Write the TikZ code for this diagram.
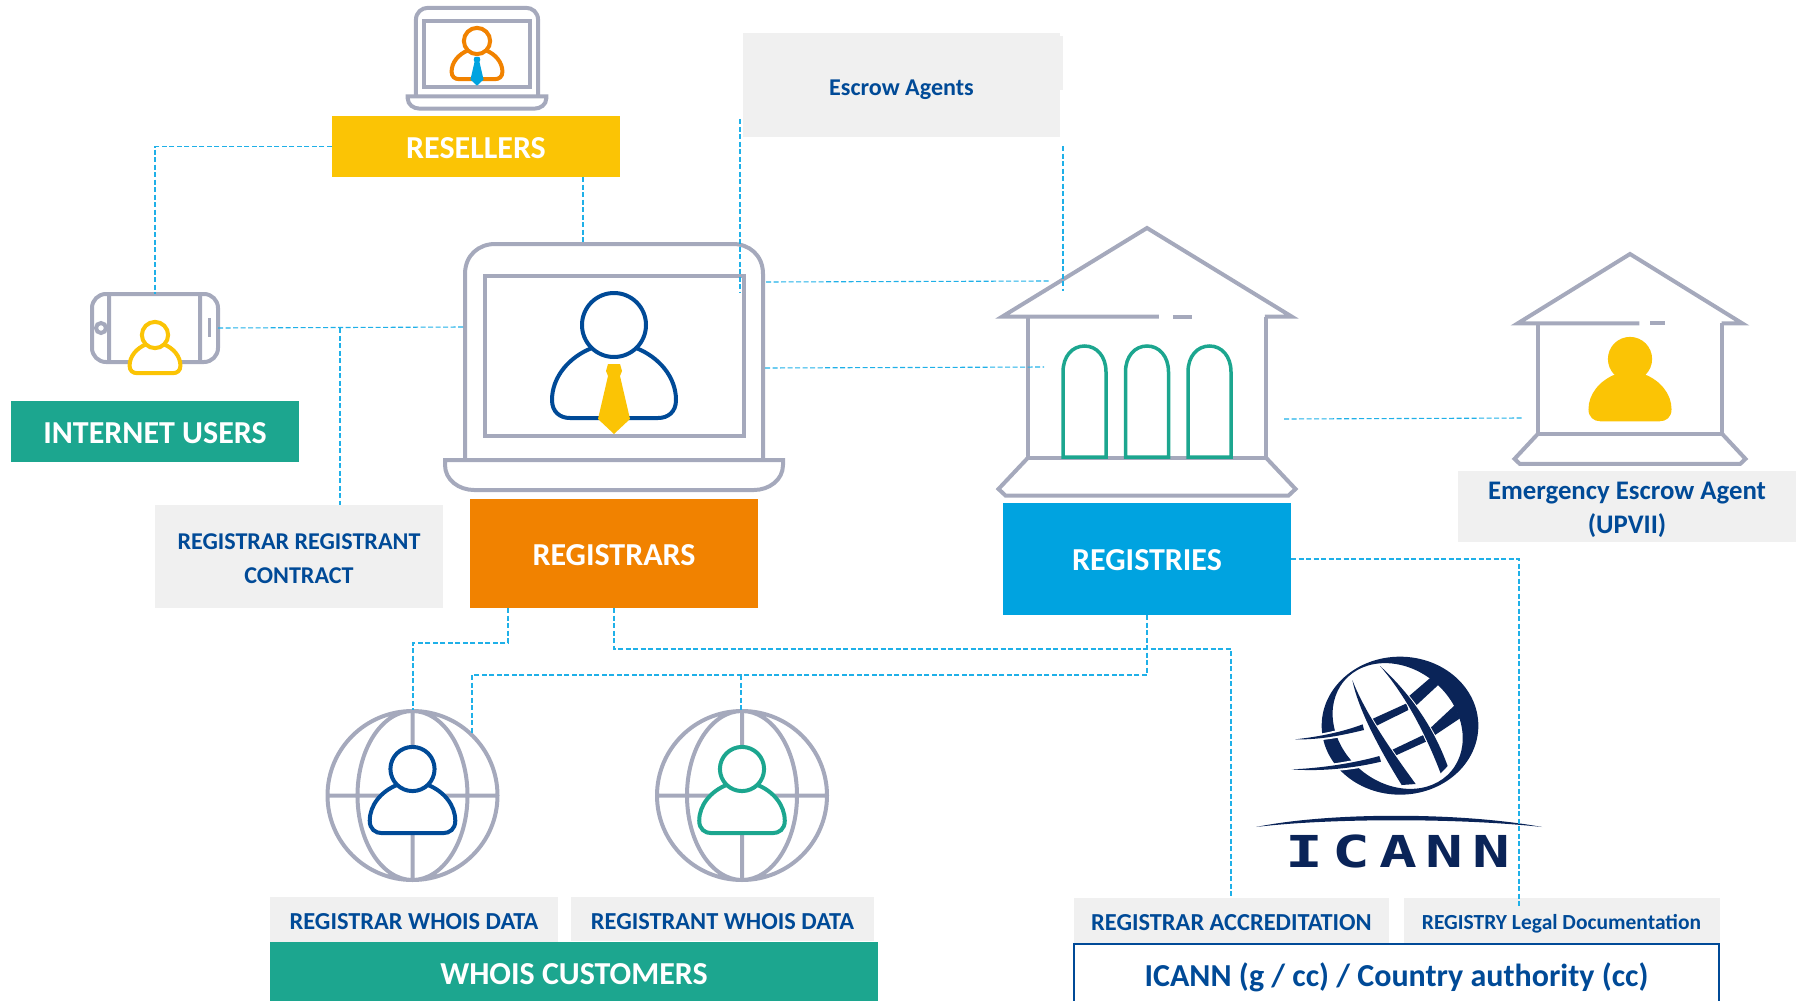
\documentclass[tikz,border=0pt]{standalone}
\usepackage{fontspec}
\setmainfont{Carlito}
\newfontfamily\logofont[LetterSpace=14]{DejaVu Sans Mono}
\usetikzlibrary{positioning}
\definecolor{icongrey}{HTML}{A5A9BC}
\definecolor{navyblue}{HTML}{004A97}
\definecolor{sunyellow}{HTML}{FBC405}
\definecolor{seateal}{HTML}{1CA68F}
\definecolor{deeporange}{HTML}{F18200}
\definecolor{skyblue}{HTML}{00A3E0}
\definecolor{notegrey}{HTML}{F0F0F0}
\definecolor{dashblue}{HTML}{1FB0E8}
\definecolor{logonavy}{HTML}{0A2458}
\tikzset{
	icon/.style={draw=icongrey,line width=4pt},
	conn/.style={draw=dashblue,line width=1.1pt,dash pattern=on 5pt off 2.5pt},
	headbox/.style={fill=#1,text=white,inner sep=0pt,font=\fontsize{32}{34}\selectfont\bfseries},
	notebox/.style={fill=notegrey,text=navyblue,inner sep=0pt,align=center,font=\fontsize{24.4}{34}\selectfont\bfseries},
	capline/.style={text height=#1,text depth=0pt},
	logopart/.style={fill=logonavy,preaction={draw=white,line width=#1}},
}
% head centre at the origin of each icon
\newcommand{\personicon}[4]{
	\begin{scope}[shift={(#1,#2)},scale=#3]
	\draw[#4,line width=4pt,fill=white] (-22,23) .. controls (-45,32) and (-62,52) .. (-62,75) .. controls (-62,87) and (-54,93) .. (-44,93) -- (44,93) .. controls (54,93) and (62,87) .. (62,75) .. controls (62,52) and (45,32) .. (22,23);
	\draw[#4,line width=4pt,fill=white] (0,0) circle (32);
	\end{scope}}
\newcommand{\laptopicon}[5]{
	\begin{scope}[shift={(#1,#2)},scale=#3]
	\draw[icon] (-149,133) -- (-149,-51) .. controls (-149,-70) and (-135,-81) .. (-119,-81) -- (119,-81) .. controls (135,-81) and (149,-70) .. (149,-51) -- (149,133);
	\draw[icon] (-129,-49) rectangle (130,111);
	\draw[icon] (-169,135) -- (169,135) -- (169,140) .. controls (169,155) and (155,165) .. (140,165) -- (-140,165) .. controls (-155,165) and (-169,155) .. (-169,140) -- cycle;
	\end{scope}
	\personicon{#1}{#2}{#3}{#4}
	\begin{scope}[shift={(#1,#2)},scale=#3]
	\fill[#5] (-6,39) -- (6,39) -- (8,46) -- (6,51) -- (16,94) -- (0,109) -- (-16,94) -- (-6,51) -- (-8,46) -- cycle;
	\end{scope}}
\newcommand{\houseicon}[3]{
	\begin{scope}[shift={(#1,#2)},#3]
	\draw[icon,line join=miter] (12,88.5) -- (-146,88.5) -- (0,0) -- (146,88.5) -- (119,88.5);
	\draw[icon] (26,88.5) -- (45,88.5);
	\draw[icon] (-120,88.5) -- (-120,229.5) -- (120,229.5) -- (120,88.5);
	\draw[icon] (-120,229.5) -- (-150,261) -- (-143,267.5) -- (143,267.5) -- (150,261) -- (120,229.5);
	\end{scope}}
\newcommand{\globeicon}[2]{
	\begin{scope}[shift={(#1,#2)}]
	\draw[icon] (0,0) ellipse (85 and 84.5) (0,0) ellipse (55 and 84.5) (-85,0) -- (85,0) (0,-84.5) -- (0,84.5);
	\end{scope}}
\begin{document}
\begin{tikzpicture}[x=1pt,y=-1pt]% WHOIS ACTORS MAP
	\useasboundingbox (0,0) rectangle (1796,1001);
	% icons
	\laptopicon{477}{41}{.41}{deeporange}{skyblue}
	\laptopicon{614}{325}{1}{navyblue}{sunyellow}
	\draw[icon,rounded corners=14pt] (92,294) rectangle (218,362);
	\draw[icon] (109,294) -- (109,362) (200,294) -- (200,362) (101,328) circle (5);
	\draw[icongrey,line width=3pt] (209,318) -- (209,337);
	\personicon{155}{335}{.41}{sunyellow}
	\houseicon{1147}{228}{xscale=.99}
	\foreach \a in {1084.5,1147,1209.5}
	\draw[seateal,line width=3.5pt] (\a-21.5,457) -- (\a-21.5,372) .. controls (\a-21.5,356) and (\a-12,346) .. (\a,346) .. controls (\a+12,346) and (\a+21.5,356) .. (\a+21.5,372) -- (\a+21.5,457) -- cycle;
	\houseicon{1630}{254}{xscale=.77,yscale=.785}
	\begin{scope}[shift={(1630,359)},scale=.67]
	\fill[sunyellow] (-22,23) .. controls (-45,32) and (-62,52) .. (-62,75) .. controls (-62,87) and (-54,93) .. (-44,93) -- (44,93) .. controls (54,93) and (62,87) .. (62,75) .. controls (62,52) and (45,32) .. (22,23) -- cycle;
	\fill[sunyellow] (0,0) circle (33);
	\end{scope}
	\globeicon{412.5}{795.5}
	\personicon{412.5}{769}{.69}{navyblue}
	\globeicon{742}{795.5}
	\personicon{742}{769}{.69}{seateal}
	% logo
	\begin{scope}[shift={(1270,640)},scale=1/3]
	\fill[logonavy,even odd rule] (390,257) ellipse [x radius=235,y radius=207] (383,258) ellipse [x radius=210,y radius=172,rotate=-40];
	\fill[logonavy] (300,240) -- (410,190) -- (415,210) -- (310,262) -- cycle (415,170) -- (485,110) -- (510,130) -- (440,195) -- cycle (355,335) -- (460,285) -- (468,305) -- (365,352) -- cycle (480,265) -- (555,195) -- (570,235) -- (495,285) -- cycle;
	\path[logopart=4pt] (75,298) .. controls (150,290) and (220,275) .. (278,253) -- (282,270) .. controls (220,285) and (150,300) .. (75,298) -- cycle;
	\path[logopart=4pt] (65,388) .. controls (150,385) and (250,370) .. (328,348) -- (333,365) .. controls (250,385) and (150,395) .. (65,388) -- cycle;
	\path[logopart=2pt] (247,120) .. controls (265,210) and (330,330) .. (395,435) -- (437,432) .. controls (370,340) and (285,220) .. (247,120) -- cycle;
	\path[logopart=2pt] (330,78) .. controls (410,170) and (470,290) .. (512,400) -- (533,378) .. controls (490,260) and (420,160) .. (330,78) -- cycle;
	\end{scope}
	\fill[logonavy] (1256,827) .. controls (1330,812) and (1460,812) .. (1542,827) .. controls (1460,818) and (1330,818) .. (1256,827) -- cycle;
	\node[text=logonavy,xscale=1.43] (icannlogo) at (1398,851) {\fontsize{44}{44}\logofont\bfseries ICANN};
	% boxes
	\node[headbox=sunyellow,minimum width=288,minimum height=61,capline=23] (resellers) at (476,146.5) {RESELLERS};
	\node[headbox=seateal,minimum width=288,minimum height=61,capline=24.5] (internetusers) at (155,431.5) {INTERNET USERS};
	\node[headbox=deeporange,minimum width=288,minimum height=109,capline=24] (registrars) at (614,553.5) {REGISTRARS};
	\node[headbox=skyblue,minimum width=288,minimum height=112,capline=22] (registries) at (1147,559) {REGISTRIES};
	\node[notebox,minimum width=288,minimum height=103,capline=53,font=\fontsize{24.1}{34}\selectfont\bfseries] (contract) at (299,556.5) {REGISTRAR REGISTRANT\\CONTRACT};
	\fill[notegrey] (1060,36) rectangle (1063,90);
	\node[notebox,minimum width=317,minimum height=104,capline=21,font=\fontsize{24.1}{34}\selectfont\bfseries] (escrow) at (901.5,85) {Escrow Agents};
	\node[notebox,minimum width=338,minimum height=71,capline=54,font=\fontsize{26.8}{34.5}\selectfont\bfseries] (emergency) at (1627,506.5) {Emergency Escrow Agent\\(UPVII)};
	\node[notebox,minimum width=288,minimum height=46,capline=19.4] (registrardata) at (414,920) {REGISTRAR WHOIS DATA};
	\node[notebox,minimum width=303,minimum height=44,capline=21] (registrantdata) at (722.5,919) {REGISTRANT WHOIS DATA};
	\node[headbox=seateal,minimum width=608,minimum height=59,capline=25] (customers) at (574,971.5) {WHOIS CUSTOMERS};
	\node[inner sep=0pt,text=navyblue,minimum width=645,minimum height=57,capline=28.5,font=\fontsize{32}{34}\selectfont\bfseries] (authority) at (1396.5,972.5) {ICANN (g / cc) / Country authority (cc)};
	\draw[navyblue,line width=1.5pt] (authority.south west) |- (authority.north east) -- (authority.south east);
	\node[notebox,minimum width=315,minimum height=45,capline=20.4] (accreditation) at (1231.5,920.5) {REGISTRAR ACCREDITATION};
	\node[notebox,minimum width=316,minimum height=45,capline=17.6,font=\fontsize{21.5}{34}\selectfont\bfseries] (legal) at (1561.5,920.5) {REGISTRY Legal Documentation};
	% connectors
	\coordinate (phonetop) at (155,294);
	\coordinate (phoneright) at (218,328);
	\coordinate (phonebranch) at (340,328);
	\coordinate (laptopleft) at (465,327);
	\coordinate (laptoptop) at (583,243);
	\coordinate (escrowlefta) at (740,119);
	\coordinate (escrowleftb) at (740,293);
	\coordinate (escrowrighta) at (1063,146);
	\coordinate (escrowrightb) at (1063,291);
	\coordinate (laptoprighta) at (766,282);
	\coordinate (roofleft) at (1049,281);
	\coordinate (laptoprightb) at (765,368);
	\coordinate (wallleft) at (1044,367);
	\coordinate (wallright) at (1284,419);
	\coordinate (smallhouse) at (1523,418);
	\coordinate (legaltop) at (1519,908);
	\coordinate (regbenda) at (508,643);
	\coordinate (globeatop) at (413,710);
	\coordinate (regbendb) at (1231,649);
	\coordinate (whoisbend) at (472,675);
	\coordinate (globeaside) at (472,733);
	\coordinate (globebbranch) at (741,675);
	\coordinate (globebtop) at (741,710);
	\draw[conn] (resellers.west) -| (phonetop);
	\draw[conn] (resellers.south -| laptoptop) -- (laptoptop);
	\draw[conn] (phoneright) -- (laptopleft);
	\draw[conn] (phonebranch) -- (phonebranch |- contract.north);
	\draw[conn] (escrowlefta) -- (escrowleftb);
	\draw[conn] (escrowrighta) -- (escrowrightb);
	\draw[conn] (laptoprighta) -- (roofleft);
	\draw[conn] (laptoprightb) -- (wallleft);
	\draw[conn] (wallright) -- (smallhouse);
	\draw[conn] (registries.east) -| (legaltop);
	\draw[conn] (regbenda |- registrars.south) -- (regbenda) -| (globeatop);
	\draw[conn] (registrars.south) |- (regbendb) -- (regbendb |- accreditation.north);
	\draw[conn] (registries.south) |- (whoisbend) -- (globeaside);
	\draw[conn] (globebbranch) -- (globebtop);
\end{tikzpicture}
\end{document}
